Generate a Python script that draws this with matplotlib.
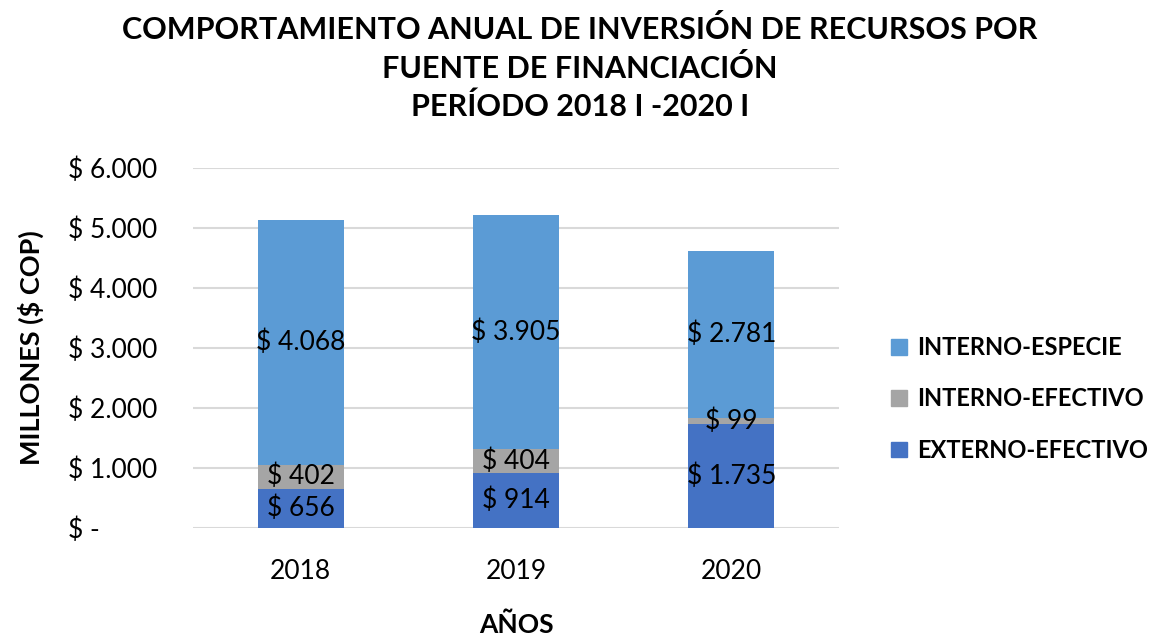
import matplotlib
matplotlib.use("Agg")
import matplotlib.pyplot as plt
from matplotlib.ticker import FuncFormatter
from matplotlib.patches import Patch

years = ["2018", "2019", "2020"]
externo_efectivo = [656, 914, 1735]
interno_efectivo = [402, 404, 99]
interno_especie = [4068, 3905, 2781]
series_names = ["EXTERNO-EFECTIVO", "INTERNO-EFECTIVO", "INTERNO-ESPECIE"]
colors = ["#4472C4", "#A5A5A5", "#5B9BD5"]

plt.rcParams['font.family'] = ['Lato', 'DejaVu Sans']

def fmt_num(v):
    return f"{int(round(v)):,}".replace(",", ".")

fig = plt.figure(figsize=(11.6, 6.42), dpi=100)
ax = fig.add_axes([193/1160, 1 - 528/642, (839-193)/1160, (528-168)/642])

x = list(range(len(years)))
bottom = [0, 0, 0]
for vals, name, c in zip([externo_efectivo, interno_efectivo, interno_especie], series_names, colors):
    ax.bar(x, vals, width=0.4, bottom=bottom, color=c, label=name, zorder=3)
    for xi, v, b in zip(x, vals, bottom):
        ax.text(xi, b + v / 2, "$ " + fmt_num(v), ha="center", va="center", fontsize=19, color="black", zorder=4)
    bottom = [b + v for b, v in zip(bottom, vals)]

ax.set_xlim(-0.5, 2.5)
ax.set_ylim(0, 6000)
ax.set_yticks(range(0, 6001, 1000))
ax.yaxis.set_major_formatter(FuncFormatter(lambda v, p: "$ -" if v == 0 else "$ " + fmt_num(v)))
ax.set_xticks(x)
ax.set_xticklabels(years)
ax.grid(axis="y", color="#D9D9D9", linewidth=1.5, zorder=0)
for s in ax.spines.values():
    s.set_visible(False)
ax.tick_params(axis="both", length=0, labelsize=19)
ax.tick_params(axis="y", pad=90)
for lbl in ax.get_yticklabels():
    lbl.set_horizontalalignment("left")
ax.tick_params(axis="x", pad=22)

ax.set_ylabel("MILLONES ($ COP)", fontsize=19.5, fontweight="bold")
ax.yaxis.set_label_coords((44 - 193) / 646, 0.5)
ax.set_xlabel("AÑOS", fontsize=19, fontweight="bold")
ax.xaxis.set_label_coords(0.5, -(612 - 528) / 360)

fig.text(580/1160, 1 - 68/642, "COMPORTAMIENTO ANUAL DE INVERSIÓN DE RECURSOS POR\nFUENTE DE FINANCIACIÓN\nPERÍODO 2018 I -2020 I",
         ha="center", va="center", fontsize=22, fontweight="bold", linespacing=1.4)

handles = [Patch(color=c) for c in colors]
fig.legend(handles[::-1], series_names[::-1], loc="center left",
           bbox_to_anchor=(870/1160, 1 - 399/642), frameon=False,
           prop={"size": 17, "weight": "bold"}, handlelength=0.65, handleheight=0.65,
           handletextpad=0.45, labelspacing=1.2)

fig.savefig("out.png", dpi=100)
